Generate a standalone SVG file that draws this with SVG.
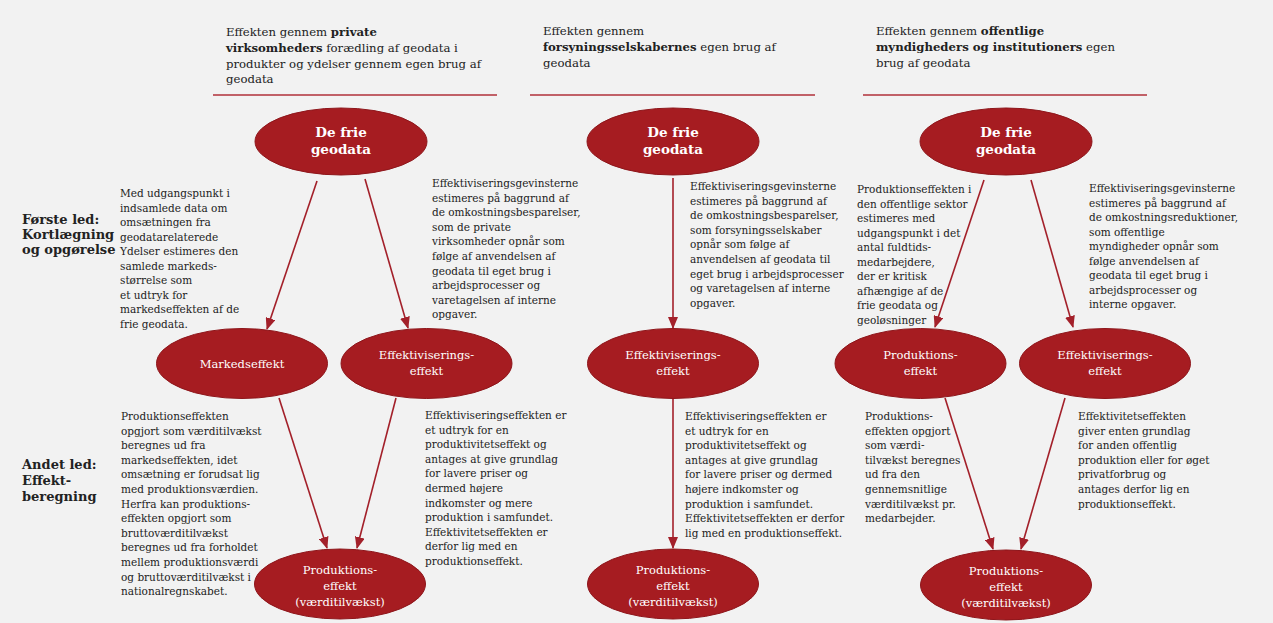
<svg xmlns="http://www.w3.org/2000/svg" width="1273" height="623" viewBox="0 0 1273 623">
<defs>
<marker id="ah" viewBox="0 0 12 10" refX="11" refY="5" markerWidth="12" markerHeight="10" markerUnits="userSpaceOnUse" orient="auto">
<path d="M0,0 L12,5 L0,10 z" fill="#a3202a"/>
</marker>
</defs>
<style>
text{font-family:"DejaVu Serif","Liberation Serif",serif;fill:#222}
.b{font-size:10.5px}
.h{font-size:11.7px}
.lab{font-size:13px;font-weight:bold}
.e{fill:#a61c21;stroke:#8e161b;stroke-width:1}
.et{fill:#fff;font-size:11.5px}
.eb{fill:#fff;font-size:13.5px;font-weight:bold}
.c{stroke:#a3202a;stroke-width:1.6;fill:none;marker-end:url(#ah)}
.hl{stroke:#b0303a;stroke-width:1.5}
</style>
<rect x="0" y="0" width="1273" height="623" fill="#f2f2f2"/>

<g id="header1">
<text class="h" x="226" y="36">Effekten gennem <tspan font-weight="bold">private</tspan><tspan x="226" dy="15.8"><tspan font-weight="bold">virksomheders</tspan> forædling af geodata i</tspan><tspan x="226" dy="15.8">produkter og ydelser gennem egen brug af</tspan><tspan x="226" dy="15.8">geodata</tspan></text>
<line class="hl" x1="213" y1="95" x2="497" y2="95"/>
</g>
<g id="header2">
<text class="h" x="543" y="35">Effekten gennem<tspan x="543" dy="15.8"><tspan font-weight="bold">forsyningsselskabernes</tspan> egen brug af</tspan><tspan x="543" dy="15.8">geodata</tspan></text>
<line class="hl" x1="530" y1="95" x2="815" y2="95"/>
</g>
<g id="header3">
<text class="h" x="876" y="35">Effekten gennem <tspan font-weight="bold">offentlige</tspan><tspan x="876" dy="15.8"><tspan font-weight="bold">myndigheders og institutioners</tspan> egen</tspan><tspan x="876" dy="15.8">brug af geodata</tspan></text>
<line class="hl" x1="863" y1="95" x2="1147" y2="95"/>
</g>

<g id="label1">
<text class="lab" x="22" y="224">Første led:<tspan x="22" dy="15">Kortlægning</tspan><tspan x="22" dy="15">og opgørelse</tspan></text>
</g>
<g id="label2">
<text class="lab" x="22" y="469">Andet led:<tspan x="22" dy="16">Effekt-</tspan><tspan x="22" dy="16">beregning</tspan></text>
</g>

<g id="connectors">
<line class="c" x1="317" y1="181" x2="267" y2="329"/>
<line class="c" x1="365" y1="179" x2="408" y2="328"/>
<line class="c" x1="279" y1="398" x2="327" y2="548"/>
<line class="c" x1="396" y1="398" x2="357" y2="548"/>
<line class="c" x1="673" y1="178" x2="673" y2="328"/>
<line class="c" x1="673" y1="398" x2="673" y2="548"/>
<line class="c" x1="984" y1="180" x2="935" y2="327"/>
<line class="c" x1="1031" y1="180" x2="1073" y2="327"/>
<line class="c" x1="945" y1="398" x2="993" y2="549"/>
<line class="c" x1="1065" y1="398" x2="1021" y2="549"/>
</g>

<g id="top1"><ellipse class="e" cx="341" cy="141.5" rx="86" ry="33.5"/><text class="eb" x="341" y="137" text-anchor="middle">De frie<tspan x="341" dy="17">geodata</tspan></text></g>
<g id="top2"><ellipse class="e" cx="673" cy="141.5" rx="86" ry="33.5"/><text class="eb" x="673" y="137" text-anchor="middle">De frie<tspan x="673" dy="17">geodata</tspan></text></g>
<g id="top3"><ellipse class="e" cx="1006" cy="141.5" rx="86" ry="33.5"/><text class="eb" x="1006" y="137" text-anchor="middle">De frie<tspan x="1006" dy="17">geodata</tspan></text></g>

<g id="markedseffekt"><ellipse class="e" cx="242" cy="363.5" rx="85.5" ry="35"/><text class="et" x="242" y="367.5" text-anchor="middle">Markedseffekt</text></g>
<g id="eff1"><ellipse class="e" cx="426.5" cy="363.5" rx="85.5" ry="35"/><text class="et" x="426.5" y="359" text-anchor="middle">Effektiviserings-<tspan x="426.5" dy="16">effekt</tspan></text></g>
<g id="eff2"><ellipse class="e" cx="673" cy="363.5" rx="85.5" ry="35"/><text class="et" x="673" y="359" text-anchor="middle">Effektiviserings-<tspan x="673" dy="16">effekt</tspan></text></g>
<g id="prod3"><ellipse class="e" cx="920.5" cy="363.5" rx="85.5" ry="35"/><text class="et" x="920.5" y="359" text-anchor="middle">Produktions-<tspan x="920.5" dy="16">effekt</tspan></text></g>
<g id="eff3"><ellipse class="e" cx="1105" cy="363.5" rx="85.5" ry="35"/><text class="et" x="1105" y="359" text-anchor="middle">Effektiviserings-<tspan x="1105" dy="16">effekt</tspan></text></g>

<g id="bottom1"><ellipse class="e" cx="340" cy="584" rx="85.5" ry="35"/><text class="et" x="340" y="574" text-anchor="middle">Produktions-<tspan x="340" dy="16">effekt</tspan><tspan x="340" dy="16">(værditilvækst)</tspan></text></g>
<g id="bottom2"><ellipse class="e" cx="673" cy="584" rx="85.5" ry="35"/><text class="et" x="673" y="574" text-anchor="middle">Produktions-<tspan x="673" dy="16">effekt</tspan><tspan x="673" dy="16">(værditilvækst)</tspan></text></g>
<g id="bottom3"><ellipse class="e" cx="1006" cy="585" rx="85.5" ry="35"/><text class="et" x="1006" y="575" text-anchor="middle">Produktions-<tspan x="1006" dy="16">effekt</tspan><tspan x="1006" dy="16">(værditilvækst)</tspan></text></g>

<g id="text-a1">
<text class="b" x="120" y="197">Med udgangspunkt i<tspan x="120" dy="14.5">indsamlede data om</tspan><tspan x="120" dy="14.5">omsætningen fra</tspan><tspan x="120" dy="14.5">geodatarelaterede</tspan><tspan x="120" dy="14.5">Ydelser estimeres den</tspan><tspan x="120" dy="14.5">samlede markeds-</tspan><tspan x="120" dy="14.5">størrelse som</tspan><tspan x="120" dy="14.5">et udtryk for</tspan><tspan x="120" dy="14.5">markedseffekten af de</tspan><tspan x="120" dy="14.5">frie geodata.</tspan></text>
</g>
<g id="text-a2">
<text class="b" x="432" y="187">Effektiviseringsgevinsterne<tspan x="432" dy="14.6">estimeres på baggrund af</tspan><tspan x="432" dy="14.6">de omkostningsbesparelser,</tspan><tspan x="432" dy="14.6">som de private</tspan><tspan x="432" dy="14.6">virksomheder opnår som</tspan><tspan x="432" dy="14.6">følge af anvendelsen af</tspan><tspan x="432" dy="14.6">geodata til eget brug i</tspan><tspan x="432" dy="14.6">arbejdsprocesser og</tspan><tspan x="432" dy="14.6">varetagelsen af interne</tspan><tspan x="432" dy="14.6">opgaver.</tspan></text>
</g>
<g id="text-b1">
<text class="b" x="690" y="190">Effektiviseringsgevinsterne<tspan x="690" dy="14.6">estimeres på baggrund af</tspan><tspan x="690" dy="14.6">de omkostningsbesparelser,</tspan><tspan x="690" dy="14.6">som forsyningsselskaber</tspan><tspan x="690" dy="14.6">opnår som følge af</tspan><tspan x="690" dy="14.6">anvendelsen af geodata til</tspan><tspan x="690" dy="14.6">eget brug i arbejdsprocesser</tspan><tspan x="690" dy="14.6">og varetagelsen af interne</tspan><tspan x="690" dy="14.6">opgaver.</tspan></text>
</g>
<g id="text-c1">
<text class="b" x="857" y="193">Produktionseffekten i<tspan x="857" dy="14.5">den offentlige sektor</tspan><tspan x="857" dy="14.5">estimeres med</tspan><tspan x="857" dy="14.5">udgangspunkt i det</tspan><tspan x="857" dy="14.5">antal fuldtids-</tspan><tspan x="857" dy="14.5">medarbejdere,</tspan><tspan x="857" dy="14.5">der er kritisk</tspan><tspan x="857" dy="14.5">afhængige af de</tspan><tspan x="857" dy="14.5">frie geodata og</tspan><tspan x="857" dy="14.5">geoløsninger</tspan></text>
</g>
<g id="text-c2">
<text class="b" x="1089" y="192">Effektiviseringsgevinsterne<tspan x="1089" dy="14.5">estimeres på baggrund af</tspan><tspan x="1089" dy="14.5">de omkostningsreduktioner,</tspan><tspan x="1089" dy="14.5">som offentlige</tspan><tspan x="1089" dy="14.5">myndigheder opnår som</tspan><tspan x="1089" dy="14.5">følge anvendelsen af</tspan><tspan x="1089" dy="14.5">geodata til eget brug i</tspan><tspan x="1089" dy="14.5">arbejdsprocesser og</tspan><tspan x="1089" dy="14.5">interne opgaver.</tspan></text>
</g>
<g id="text-a3">
<text class="b" x="121" y="420">Produktionseffekten<tspan x="121" dy="14.6">opgjort som værditilvækst</tspan><tspan x="121" dy="14.6">beregnes ud fra</tspan><tspan x="121" dy="14.6">markedseffekten, idet</tspan><tspan x="121" dy="14.6">omsætning er forudsat lig</tspan><tspan x="121" dy="14.6">med produktionsværdien.</tspan><tspan x="121" dy="14.6">Herfra kan produktions-</tspan><tspan x="121" dy="14.6">effekten opgjort som</tspan><tspan x="121" dy="14.6">bruttoværditilvækst</tspan><tspan x="121" dy="14.6">beregnes ud fra forholdet</tspan><tspan x="121" dy="14.6">mellem produktionsværdi</tspan><tspan x="121" dy="14.6">og bruttoværditilvækst i</tspan><tspan x="121" dy="14.6">nationalregnskabet.</tspan></text>
</g>
<g id="text-a4">
<text class="b" x="425" y="419">Effektiviseringseffekten er<tspan x="425" dy="14.6">et udtryk for en</tspan><tspan x="425" dy="14.6">produktivitetseffekt og</tspan><tspan x="425" dy="14.6">antages at give grundlag</tspan><tspan x="425" dy="14.6">for lavere priser og</tspan><tspan x="425" dy="14.6">dermed højere</tspan><tspan x="425" dy="14.6">indkomster og mere</tspan><tspan x="425" dy="14.6">produktion i samfundet.</tspan><tspan x="425" dy="14.6">Effektivitetseffekten er</tspan><tspan x="425" dy="14.6">derfor lig med en</tspan><tspan x="425" dy="14.6">produktionseffekt.</tspan></text>
</g>
<g id="text-b2">
<text class="b" x="685" y="420">Effektiviseringseffekten er<tspan x="685" dy="14.6">et udtryk for en</tspan><tspan x="685" dy="14.6">produktivitetseffekt og</tspan><tspan x="685" dy="14.6">antages at give grundlag</tspan><tspan x="685" dy="14.6">for lavere priser og dermed</tspan><tspan x="685" dy="14.6">højere indkomster og</tspan><tspan x="685" dy="14.6">produktion i samfundet.</tspan><tspan x="685" dy="14.6">Effektivitetseffekten er derfor</tspan><tspan x="685" dy="14.6">lig med en produktionseffekt.</tspan></text>
</g>
<g id="text-c3">
<text class="b" x="865" y="420">Produktions-<tspan x="865" dy="14.6">effekten opgjort</tspan><tspan x="865" dy="14.6">som værdi-</tspan><tspan x="865" dy="14.6">tilvækst beregnes</tspan><tspan x="865" dy="14.6">ud fra den</tspan><tspan x="865" dy="14.6">gennemsnitlige</tspan><tspan x="865" dy="14.6">værditilvækst pr.</tspan><tspan x="865" dy="14.6">medarbejder.</tspan></text>
</g>
<g id="text-c4">
<text class="b" x="1078" y="420">Effektivitetseffekten<tspan x="1078" dy="14.6">giver enten grundlag</tspan><tspan x="1078" dy="14.6">for anden offentlig</tspan><tspan x="1078" dy="14.6">produktion eller for øget</tspan><tspan x="1078" dy="14.6">privatforbrug og</tspan><tspan x="1078" dy="14.6">antages derfor lig en</tspan><tspan x="1078" dy="14.6">produktionseffekt.</tspan></text>
</g>
</svg>
